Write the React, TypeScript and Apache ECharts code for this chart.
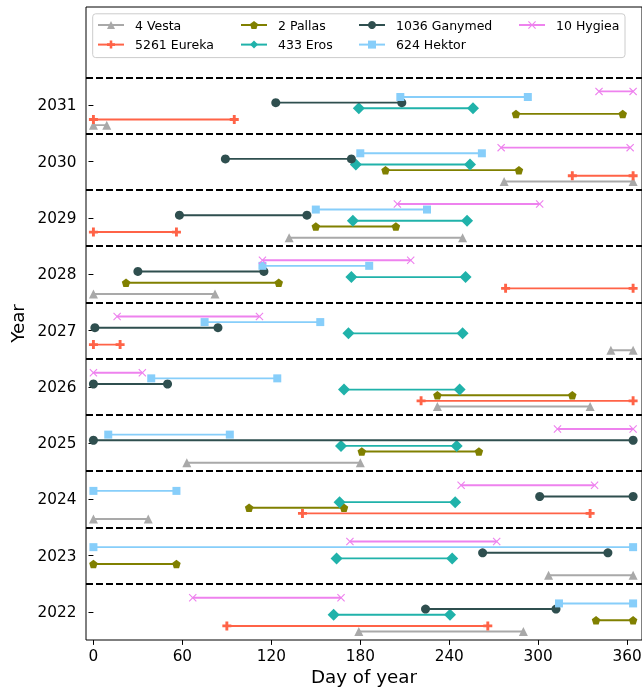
import React, { useEffect, useRef } from "react";
import * as echarts from "echarts";

// Axis ticks
const xTicks = [0, 60, 120, 180, 240, 300, 360];
const yTicks = [2022, 2023, 2024, 2025, 2026, 2027, 2028, 2029, 2030, 2031];
const separators = [2022.5, 2023.5, 2024.5, 2025.5, 2026.5, 2027.5, 2028.5, 2029.5, 2030.5, 2031.5];

// Observation windows: [year, startDay, endDay]
const vesta = [
  [2031, 0, 9], [2030, 277, 364], [2029, 132, 249], [2028, 0, 82], [2027, 349, 364],
  [2026, 232, 335], [2025, 63, 180], [2024, 0, 37], [2023, 307, 364], [2022, 179, 290],
];
const eureka = [
  [2031, 0, 95], [2030, 323, 364], [2029, 0, 56], [2028, 278, 364], [2027, 0, 18],
  [2026, 221, 364], [2024, 141, 335], [2022, 90, 266],
];
const pallas = [
  [2031, 285, 357], [2030, 197, 287], [2029, 150, 204], [2028, 22, 125],
  [2026, 232, 323], [2025, 181, 260], [2024, 105, 169], [2023, 0, 56], [2022, 339, 364],
];
const eros = [
  [2031, 179, 256], [2030, 177, 254], [2029, 175, 252], [2028, 174, 251], [2027, 172, 249],
  [2026, 169, 247], [2025, 167, 245], [2024, 166, 244], [2023, 164, 242], [2022, 162, 240.5],
];
const ganymed = [
  [2031, 123, 208], [2030, 89, 174], [2029, 58, 144], [2028, 30, 115], [2027, 1, 84],
  [2026, 0, 50], [2025, 0, 364], [2024, 301, 364], [2023, 262.5, 347], [2022, 224, 312],
];
const hektor = [
  [2031, 207, 293], [2030, 180, 262], [2029, 150, 225], [2028, 114, 186], [2027, 75, 153],
  [2026, 39, 124], [2025, 10, 92], [2024, 0, 56], [2023, 0, 364], [2022, 314, 364],
];
const hygiea = [
  [2031, 341, 364], [2030, 275, 362], [2029, 205, 301], [2028, 114, 214], [2027, 16, 112],
  [2026, 0, 33], [2025, 313, 364], [2024, 248, 338], [2023, 173, 272], [2022, 67, 167],
];

const names = ["4 Vesta", "5261 Eureka", "2 Pallas", "433 Eros", "1036 Ganymed", "624 Hektor", "10 Hygiea"];
const allSegments = [vesta, eureka, pallas, eros, ganymed, hektor, hygiea];

// styles
const colors = ["#a9a9a9", "#ff6347", "#808000", "#20b2aa", "#2f4f4f", "#87cefa", "#ee82ee"];
const PENTAGON = "path://M0,-1 L0.951,-0.309 L0.588,0.809 L-0.588,0.809 L-0.951,-0.309 Z";
const PLUS =
  "path://M-0.32,-1 L0.32,-1 L0.32,-0.32 L1,-0.32 L1,0.32 L0.32,0.32 L0.32,1 L-0.32,1 L-0.32,0.32 L-1,0.32 L-1,-0.32 L-0.32,-0.32 Z";
const w = 0.2;
const XMARK = `path://M${-1 + w},-1 L0,${-w} L${1 - w},-1 L1,${-1 + w} L${w},0 L1,${1 - w} L${1 - w},1 L0,${w} L${-1 + w},1 L-1,${1 - w} L${-w},0 L-1,${-1 + w} Z`;
const symbols = ["triangle", PLUS, PENTAGON, "diamond", "circle", "rect", XMARK];
const symbolSizes = [9, 9, 8.5, 12, 9, 8, 8];
const offsets = [-0.35, -0.25, -0.15, -0.05, 0.05, 0.15, 0.25];

const FONT = "DejaVu Sans";

function toLine(segs: number[][], offset: number) {
  const out: any[] = [];
  segs.forEach(([yr, s, e], i) => {
    if (i > 0) out.push(["-", "-"]);
    out.push([s, yr + offset], [e, yr + offset]);
  });
  return out;
}

export default function App() {
  const ref = useRef<HTMLDivElement>(null);
  useEffect(() => {
    if (!ref.current) return;
    const chart = echarts.init(ref.current, undefined, { renderer: "svg" });

    const series: any[] = names.map((name, i) => ({
      type: "line",
      name,
      data: toLine(allSegments[i], offsets[i]),
      connectNulls: false,
      symbol: symbols[i],
      symbolSize: symbolSizes[i],
      showAllSymbol: true,
      lineStyle: { color: colors[i], width: 1.9 },
      itemStyle: { color: colors[i] },
      emphasis: { disabled: true },
      z: 2 + i * 0.01,
    }));
    series[0].markLine = {
      silent: true,
      symbol: ["none", "none"],
      label: { show: false },
      lineStyle: { color: "#000", width: 1.8, type: [7, 3] },
      emphasis: { disabled: true },
      data: separators.map((v) => ({ yAxis: v })),
    };

    const legendCommon = {
      orient: "vertical",
      top: 18,
      padding: 0,
      itemWidth: 26,
      itemHeight: 10,
      itemGap: 5.6,
      selectedMode: false,
      z: 5,
      textStyle: { fontFamily: FONT, fontSize: 12.5, color: "#000", lineHeight: 14, padding: [0, 0, 0, 6] },
    };

    chart.setOption({
      animation: false,
      grid: {
        left: 86,
        top: 7,
        width: 556,
        height: 633,
        containLabel: false,
        outerBoundsMode: "none",
        show: true,
        borderColor: "#000",
        borderWidth: 1,
        backgroundColor: "transparent",
      },
      xAxis: {
        type: "value",
        min: -5,
        max: 370,
        name: "Day of year",
        nameLocation: "middle",
        nameGap: 27,
        nameTextStyle: { fontFamily: FONT, fontSize: 18.3, color: "#000" },
        axisLine: { show: false },
        axisTick: { show: true, length: 4.9, customValues: xTicks, lineStyle: { color: "#000", width: 1 } },
        axisLabel: {
          customValues: xTicks,
          formatter: (v: number) => String(v),
          fontFamily: FONT,
          fontSize: 15.3,
          color: "#000",
          margin: 8,
        },
        splitLine: { show: false },
      },
      yAxis: {
        type: "value",
        min: 2021.5,
        max: 2032.75,
        name: "Year",
        nameLocation: "middle",
        nameRotate: 90,
        nameGap: 60,
        nameTextStyle: { fontFamily: FONT, fontSize: 18.3, color: "#000" },
        axisLine: { show: false },
        axisTick: { show: true, length: 4.9, customValues: yTicks, lineStyle: { color: "#000", width: 1 } },
        axisLabel: {
          customValues: yTicks,
          formatter: (v: number) => String(v),
          fontFamily: FONT,
          fontSize: 15.3,
          color: "#000",
          margin: 9.5,
        },
        splitLine: { show: false },
      },
      legend: [
        { ...legendCommon, left: 97, data: ["4 Vesta", "5261 Eureka"] },
        { ...legendCommon, left: 240, data: ["2 Pallas", "433 Eros"] },
        { ...legendCommon, left: 358, data: ["1036 Ganymed", "624 Hektor"] },
        { ...legendCommon, left: 518, data: ["10 Hygiea"] },
      ],
      graphic: [
        {
          type: "rect",
          z: 4,
          silent: true,
          shape: { x: 92.7, y: 13.8, width: 532.3, height: 43.8, r: 3 },
          style: { fill: "rgba(255,255,255,0.8)", stroke: "#cccccc", lineWidth: 1 },
        },
      ],
      series,
    });
    return () => chart.dispose();
  }, []);
  return <div ref={ref} style={{ position: "fixed", left: 0, top: 0, width: 642, height: 689 }} />;
}
